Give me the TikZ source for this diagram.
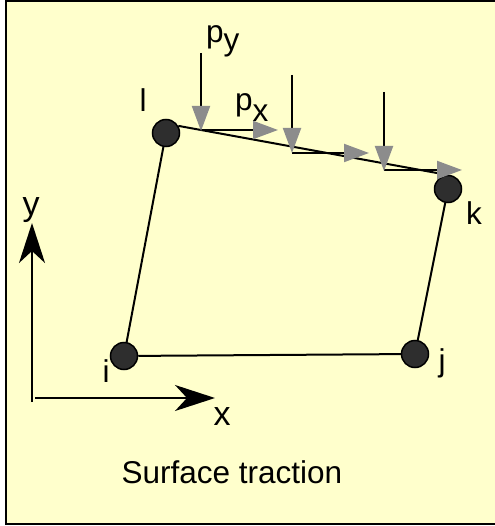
\documentclass[tikz,border=0pt]{standalone}
\usepackage{fontspec}
\setmainfont{Liberation Sans}
\usetikzlibrary{arrows.meta}
\definecolor{bgyellow}{HTML}{FFFFCC}
\definecolor{arrgray}{HTML}{8C8C8C}
\definecolor{nodedark}{HTML}{2E2E2E}
\tikzset{
  fe/.style={circle,draw=black,line width=1.5pt,fill=nodedark,minimum size=27pt,inner sep=0pt},
  lbl/.style={inner sep=0pt,anchor=base,font=\fontsize{31.5}{31.5}\selectfont},
  axlbl/.style={inner sep=0pt,anchor=base,font=\fontsize{34}{34}\selectfont},
  edge/.style={line width=2pt},
  load/.style={line width=2pt,-{Triangle[length=25pt,width=18pt,color=arrgray]}},
  axis/.style={line width=2pt,-{Stealth[length=40pt,width=26pt,inset=12pt]}}
}
\begin{document}
\begin{tikzpicture}[x=1pt,y=-1pt]
\useasboundingbox (0,0) rectangle (494,526);
\fill[white] (0,0) rectangle (494,526);
\draw[fill=bgyellow,line width=2pt] (6,1) rectangle (500,524);
% element nodes
\node[fe] (l) at (166,133) {};
\node[fe] (k) at (448,189) {};
\node[fe] (j) at (415,354) {};
\node[fe] (i) at (124,356) {};
% edges
\draw[edge] (l.30) -- (k.95);
\draw[edge] (k) -- (j);
\draw[edge] (j) -- (i);
\draw[edge] (i) -- (l);
% node labels
\node[lbl] (tl) at (143,112) {l};
\node[lbl] (tk) at (474,225) {k};
\node[lbl] (tj) at (442,371) {j};
\node[lbl] (ti) at (106,382) {i};
% tractions
\coordinate (v1a) at (201,53);  \coordinate (v1b) at (201,131);
\coordinate (h1a) at (201,130); \coordinate (h1b) at (278,130);
\coordinate (v2a) at (292,75);  \coordinate (v2b) at (292,153);
\coordinate (h2a) at (292,153); \coordinate (h2b) at (369,153);
\coordinate (v3a) at (384,92);  \coordinate (v3b) at (384,171);
\coordinate (h3a) at (384,170); \coordinate (h3b) at (462,170);
\draw[load] (h1a) -- (h1b);
\draw[load] (h2a) -- (h2b);
\draw[load] (h3a) -- (h3b);
\draw[load] (v1a) -- (v1b);
\draw[load] (v2a) -- (v2b);
\draw[load] (v3a) -- (v3b);
\node[lbl,anchor=base west] (py) at (206,43) {p\raisebox{-8pt}{y}};
\node[lbl,anchor=base west] (px) at (235,111) {p\raisebox{-11pt}{x}};
% axes
\coordinate (o) at (32,402);
\coordinate (yt) at (32,223);
\coordinate (xo) at (35,398);
\coordinate (xt) at (215,398);
\draw[axis] (o) -- (yt);
\draw[axis] (xo) -- (xt);
\node[axlbl] (ylab) at (31,216) {y};
\node[axlbl] (xlab) at (222,425) {x};
% caption
\node[lbl] (cap) at (232,483) {Surface traction};
\end{tikzpicture}
\end{document}
